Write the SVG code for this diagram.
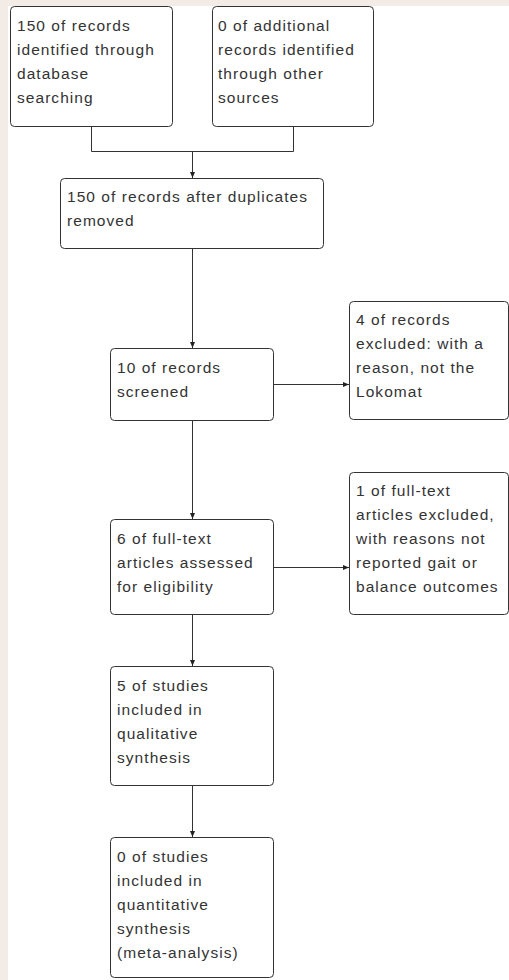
<svg xmlns="http://www.w3.org/2000/svg" width="509" height="980" viewBox="0 0 509 980">
<style>
.box{fill:#fff;stroke:#333;stroke-width:1}
.t{font-family:"Liberation Sans",Arial,sans-serif;font-size:15.5px;letter-spacing:1.05px;fill:#333}
.c{fill:none;stroke:#333;stroke-width:1}
</style>
<defs>
<marker id="ah" markerUnits="userSpaceOnUse" markerWidth="7" markerHeight="7" refX="6" refY="3.5" orient="auto">
<path d="M0,1 L6,3.5 L0,6 z" fill="#222"/>
</marker>
</defs>
<rect x="0" y="0" width="509" height="980" fill="#f3ebe6"/>
<rect x="8" y="6" width="501" height="974" fill="#fff"/>
<g id="connectors">
<path class="c" d="M91.5 126.5 V151.5 H293.5 V126.5"/>
<path class="c" d="M192.5 151.5 V178" marker-end="url(#ah)"/>
<path class="c" d="M192.5 248.5 V348" marker-end="url(#ah)"/>
<path class="c" d="M273.5 384.5 H349" marker-end="url(#ah)"/>
<path class="c" d="M192.5 420.5 V519" marker-end="url(#ah)"/>
<path class="c" d="M273.5 567.5 H349" marker-end="url(#ah)"/>
<path class="c" d="M192.5 614.5 V666" marker-end="url(#ah)"/>
<path class="c" d="M192.5 785.5 V837" marker-end="url(#ah)"/>
</g>
<g id="n1">
<rect class="box" x="10.5" y="6.5" width="162" height="120" rx="4"/>
<text class="t" x="17" y="31"><tspan x="17">150 of records</tspan><tspan x="17" dy="24">identified through</tspan><tspan x="17" dy="24">database</tspan><tspan x="17" dy="24">searching</tspan></text>
</g>
<g id="n2">
<rect class="box" x="212.5" y="6.5" width="161" height="120" rx="4"/>
<text class="t" x="218" y="31"><tspan x="218">0 of additional</tspan><tspan x="218" dy="24">records identified</tspan><tspan x="218" dy="24">through other</tspan><tspan x="218" dy="24">sources</tspan></text>
</g>
<g id="n3">
<rect class="box" x="60.5" y="178.5" width="263" height="70" rx="4"/>
<text class="t" x="67" y="202"><tspan x="67">150 of records after duplicates</tspan><tspan x="67" dy="24">removed</tspan></text>
</g>
<g id="n4">
<rect class="box" x="110.5" y="348.5" width="163" height="72" rx="4"/>
<text class="t" x="117" y="372.5"><tspan x="117">10 of records</tspan><tspan x="117" dy="24">screened</tspan></text>
</g>
<g id="n5">
<rect class="box" x="349.5" y="301.5" width="159" height="118" rx="4"/>
<text class="t" x="356" y="325"><tspan x="356">4 of records</tspan><tspan x="356" dy="24">excluded: with a</tspan><tspan x="356" dy="24">reason, not the</tspan><tspan x="356" dy="24">Lokomat</tspan></text>
</g>
<g id="n6">
<rect class="box" x="110.5" y="519.5" width="163" height="95" rx="4"/>
<text class="t" x="117" y="543.5"><tspan x="117">6 of full-text</tspan><tspan x="117" dy="24">articles assessed</tspan><tspan x="117" dy="24">for eligibility</tspan></text>
</g>
<g id="n7">
<rect class="box" x="349.5" y="472.5" width="159" height="142" rx="4"/>
<text class="t" x="356" y="495.5"><tspan x="356">1 of full-text</tspan><tspan x="356" dy="24">articles excluded,</tspan><tspan x="356" dy="24">with reasons not</tspan><tspan x="356" dy="24">reported gait or</tspan><tspan x="356" dy="24">balance outcomes</tspan></text>
</g>
<g id="n8">
<rect class="box" x="110.5" y="666.5" width="163" height="119" rx="4"/>
<text class="t" x="117" y="690.5"><tspan x="117">5 of studies</tspan><tspan x="117" dy="24">included in</tspan><tspan x="117" dy="24">qualitative</tspan><tspan x="117" dy="24">synthesis</tspan></text>
</g>
<g id="n9">
<rect class="box" x="110.5" y="837.5" width="163" height="140" rx="4"/>
<text class="t" x="117" y="861.5"><tspan x="117">0 of studies</tspan><tspan x="117" dy="24">included in</tspan><tspan x="117" dy="24">quantitative</tspan><tspan x="117" dy="24">synthesis</tspan><tspan x="117" dy="24">(meta-analysis)</tspan></text>
</g>
</svg>
